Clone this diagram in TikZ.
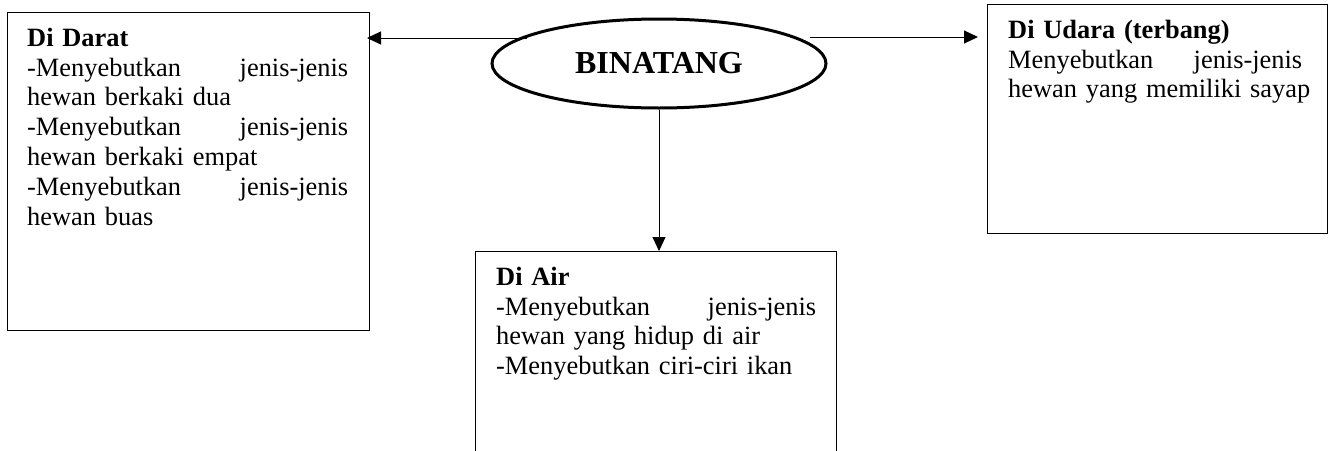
\documentclass[tikz,border=0pt]{standalone}
\usepackage{fontspec}
\setmainfont{Liberation Serif}
\usetikzlibrary{arrows.meta,shapes.geometric}
\begin{document}
\begin{tikzpicture}[x=1pt,y=-1pt,
  box/.style={draw, line width=1pt, inner sep=0pt, anchor=north west},
  txt/.style={anchor=north west, inner sep=0pt, text width=#1, align=left,
    font=\fontsize{26.4}{29.8}\selectfont},
  arr/.style={-{Triangle[length=14pt,width=13pt]}, line width=1pt},
  oval/.style={draw, ellipse, line width=3pt, inner sep=0pt,
    font=\bfseries\fontsize{32}{38}\selectfont}
]
\clip (0,0) rectangle (1330,450);
\fill[white] (0,0) rectangle (1330,450);

\node[box, minimum width=362pt, minimum height=318pt] (darat) at (7,12) {};
\node[box, minimum width=340pt, minimum height=229pt] (udara) at (987,4) {};
\node[box, minimum width=361pt, minimum height=260pt] (air) at (475,251) {};

\node[oval, minimum width=334pt, minimum height=89pt] (bin) at (659,63.5) {BINATANG};

\node[txt=321pt] (daratT) at (27,26) {\rule{0pt}{20pt}\textbf{Di Darat}\\
-Menyebutkan\hfill jenis-jenis\\
hewan berkaki dua\\
-Menyebutkan\hfill jenis-jenis\\
hewan berkaki empat\\
-Menyebutkan\hfill jenis-jenis\\
hewan buas};

\node[txt=294pt] (udaraT) at (1008,18) {\rule{0pt}{20pt}\textbf{Di Udara (terbang)}\\
Menyebutkan\hfill jenis-jenis\\
\mbox{hewan yang memiliki sayap}};

\node[txt=320pt] (airT) at (496,265) {\rule{0pt}{20pt}\textbf{Di Air}\\
-Menyebutkan\hfill jenis-jenis\\
hewan yang hidup di air\\
-Menyebutkan ciri-ciri ikan};

\coordinate (la) at (527,38);
\coordinate (ra) at (810,37);
\draw[arr, shorten >=-3pt] (la) -- (darat.east |- la);
\draw[arr, shorten >=9pt] (ra) -- (udara.west |- ra);
\draw[arr] (bin.south) -- (bin.south |- air.north);
\end{tikzpicture}
\end{document}
